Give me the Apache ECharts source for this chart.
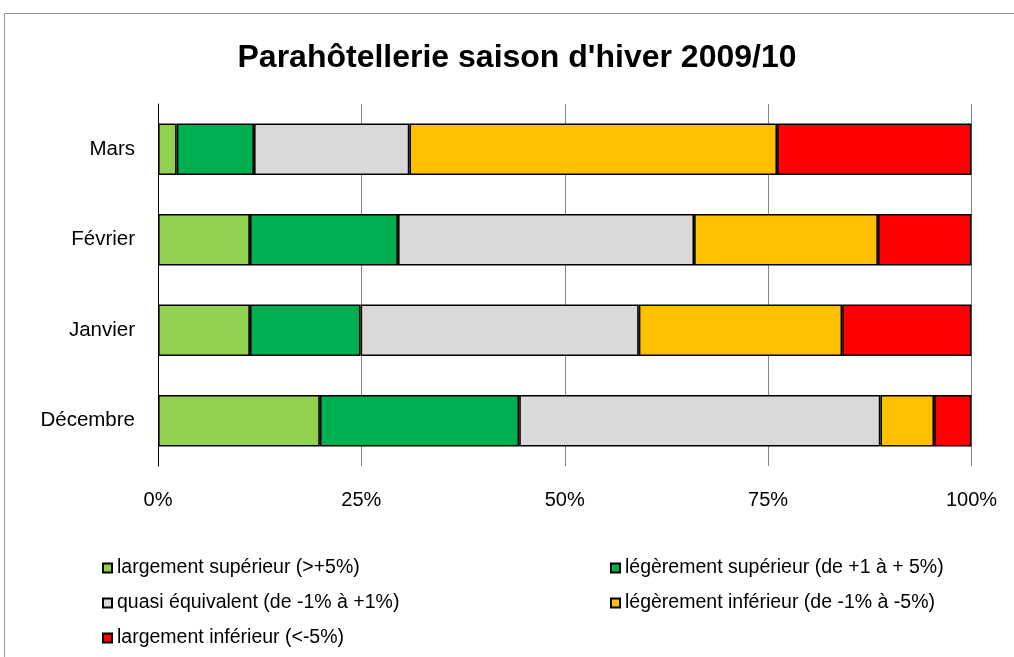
<!DOCTYPE html>
<html>
<head>
<meta charset="utf-8">
<script src="https://cdn.jsdelivr.net/npm/echarts@6/dist/echarts.min.js"></script>
<style>html,body{margin:0;padding:0;background:#fff;}#c{width:1014px;height:657px;}</style>
</head>
<body>
<div id="c"></div>
<script>
var categories = ['Décembre', 'Janvier', 'Février', 'Mars'];
var seriesNames = [
  'largement supérieur (>+5%)',
  'légèrement supérieur (de +1 à + 5%)',
  'quasi équivalent (de -1% à +1%)',
  'légèrement inférieur (de -1% à -5%)',
  'largement inférieur (<-5%)'
];
var largementSup = [19.9, 11.3, 11.3, 2.3];
var legerementSup = [24.5, 13.6, 18.2, 9.5];
var quasiEq = [44.4, 34.2, 36.4, 19.1];
var legerementInf = [6.6, 25.0, 22.6, 45.2];
var largementInf = [4.6, 15.9, 11.5, 23.9];
var tickLabels = ['0%', '25%', '50%', '75%', '100%'];
var colors = ['#92D050', '#00B050', '#D9D9D9', '#FFC000', '#FF0000'];

var seriesData = [largementSup, legerementSup, quasiEq, legerementInf, largementInf];
var FONT = '"Liberation Sans", Arial, sans-serif';

var chart = echarts.init(document.getElementById('c'), null, {renderer: 'canvas'});
var series = seriesData.map(function (d, i) {
  return {
    name: seriesNames[i],
    type: 'bar',
    stack: 'total',
    data: d,
    barCategoryGap: '43%',
    itemStyle: {color: colors[i], borderColor: '#000', borderWidth: 1.6},
    emphasis: {disabled: true}
  };
});

var legendCommon = {
  orient: 'vertical',
  icon: 'rect',
  itemWidth: 9,
  itemHeight: 9,
  itemGap: 13,
  textStyle: {fontFamily: FONT, fontSize: 19.5, color: '#000', lineHeight: 22},
  selectedMode: false
};

chart.setOption({
  animation: false,
  backgroundColor: '#fff',
  title: {
    text: "Parahôtellerie saison d'hiver 2009/10",
    left: 512,
    textAlign: 'center',
    top: 37,
    textStyle: {fontFamily: FONT, fontSize: 32, fontWeight: 'bold', color: '#000'}
  },
  graphic: [{
    type: 'rect',
    shape: {x: 4.5, y: 13.5, width: 1100, height: 800},
    style: {fill: 'none', stroke: '#999', lineWidth: 1},
    silent: true,
    z: 100
  }],
  legend: [
    Object.assign({}, legendCommon, {left: 97, top: 552, data: [seriesNames[0], seriesNames[2], seriesNames[4]]}),
    Object.assign({}, legendCommon, {left: 605, top: 552, data: [seriesNames[1], seriesNames[3]]})
  ],
  grid: {left: 158, right: 42.5, top: 104, bottom: 191, containLabel: false},
  xAxis: {
    type: 'value',
    min: 0,
    max: 100,
    interval: 25,
    axisLine: {show: false},
    axisTick: {show: false},
    splitLine: {show: true, lineStyle: {color: '#868686', width: 1}},
    axisLabel: {
      fontFamily: FONT, fontSize: 20, color: '#000', margin: 24,
      formatter: function (v) { return tickLabels[Math.round(v / 25)]; }
    }
  },
  yAxis: {
    type: 'category',
    data: categories,
    axisLine: {show: true, lineStyle: {color: '#000', width: 1}},
    axisTick: {show: false},
    splitLine: {show: false},
    axisLabel: {fontFamily: FONT, fontSize: 20.5, color: '#000', margin: 23}
  },
  series: series
});
</script>
</body>
</html>
